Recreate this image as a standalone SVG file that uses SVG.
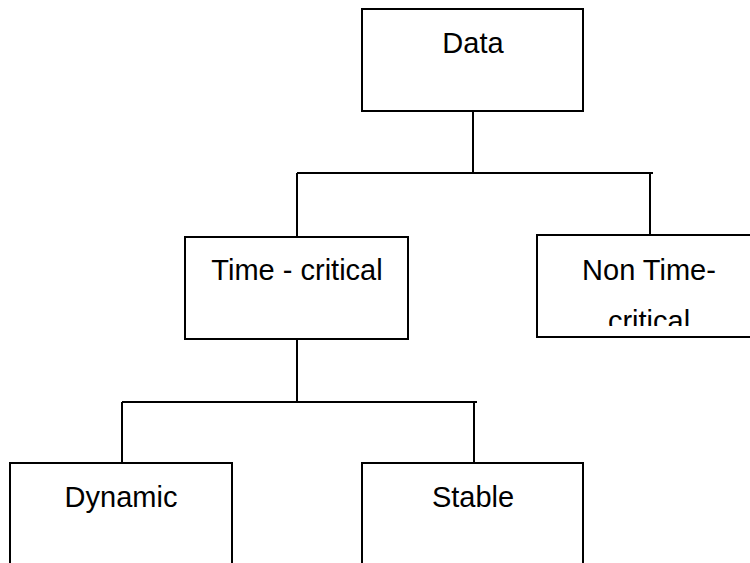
<svg xmlns="http://www.w3.org/2000/svg" width="750" height="563" viewBox="0 0 750 563">
  <style>
    .box { fill: #ffffff; stroke: #000000; stroke-width: 2; }
    .conn { fill: none; stroke: #000000; stroke-width: 2; }
    .lbl { font-family: "Liberation Sans", Arial, sans-serif; font-size: 29px; fill: #000000; text-anchor: middle; }
  </style>
  <defs>
    <clipPath id="clipNon">
      <rect x="537" y="235" width="220" height="91"/>
    </clipPath>
  </defs>
  <rect x="0" y="0" width="750" height="563" fill="#ffffff"/>
  <g id="connectors">
    <path class="conn" d="M473,111 V173 M297,173 H653 M297,173 V237 M650,173 V235"/>
    <path class="conn" d="M297,339 V402 M122,402 H477 M122,402 V463 M474,402 V463"/>
  </g>
  <g id="node-data">
    <rect class="box" x="362" y="9" width="221" height="102"/>
    <text class="lbl" x="473" y="53">Data</text>
  </g>
  <g id="node-time-critical">
    <rect class="box" x="185" y="237" width="223" height="102"/>
    <text class="lbl" x="297" y="280">Time - critical</text>
  </g>
  <g id="node-non-time-critical">
    <rect class="box" x="537" y="235" width="230" height="102"/>
    <g clip-path="url(#clipNon)">
      <text class="lbl" x="649" y="280">Non Time-</text>
      <text class="lbl" x="649" y="331">critical</text>
    </g>
  </g>
  <g id="node-dynamic">
    <rect class="box" x="10" y="463" width="222" height="120"/>
    <text class="lbl" x="121" y="507">Dynamic</text>
  </g>
  <g id="node-stable">
    <rect class="box" x="362" y="463" width="221" height="120"/>
    <text class="lbl" x="473" y="507">Stable</text>
  </g>
</svg>
